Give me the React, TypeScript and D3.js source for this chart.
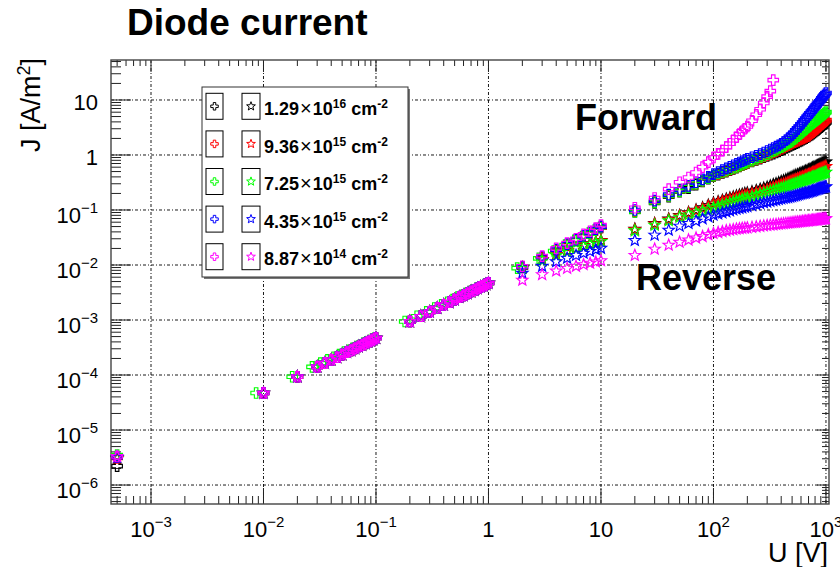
import React from 'react';
import * as d3 from 'd3';

const W = 840;
const H = 567;
const FONT = "'Liberation Sans', Arial, Helvetica, sans-serif";

// ---------------- data ----------------
const fluenceMantissa = ['1.29', '9.36', '7.25', '4.35', '8.87'];
const fluenceExponent = ['16', '15', '15', '15', '14'];
const seriesColors = ['#000000', '#ff0000', '#00ff00', '#0000ff', '#ff00ff'];

const voltFirst = [0.0005];
const jFirstFwd = [2.2e-6, 3.1e-6, 3.5e-6, 3.2e-6, 3.3e-6];
const jFirstRev = [3.0e-6, 3.1e-6, 3.2e-6, 3.2e-6, 3.3e-6];

const voltLow = [0.01, 0.02, 0.03, 0.035, 0.04, 0.045, 0.05, 0.055, 0.06, 0.065, 0.07, 0.075, 0.08, 0.085, 0.09, 0.095, 0.1,
  0.2, 0.25, 0.3, 0.35, 0.4, 0.45, 0.5, 0.55, 0.6, 0.65, 0.7, 0.75, 0.8, 0.85, 0.9, 0.95, 1.0];
const jLow = [4.7e-5, 9.3e-5, 1.41e-4, 1.65e-4, 1.88e-4, 2.1e-4, 2.35e-4, 2.6e-4, 2.8e-4, 3.05e-4, 3.3e-4, 3.5e-4, 3.75e-4, 4.0e-4, 4.2e-4, 4.45e-4, 4.7e-4,
  9.4e-4, 1.17e-3, 1.41e-3, 1.65e-3, 1.88e-3, 2.1e-3, 2.35e-3, 2.6e-3, 2.8e-3, 3.05e-3, 3.3e-3, 3.5e-3, 3.75e-3, 4.0e-3, 4.2e-3, 4.45e-3, 4.7e-3];
// the green forward scan was taken at slightly lower voltages
const voltLowGreenFwd = [0.0086, 0.018, 0.027, 0.032, 0.037, 0.042, 0.047, 0.052, 0.057, 0.062, 0.067, 0.072, 0.077, 0.082, 0.087, 0.092, 0.097,
  0.18, 0.23, 0.28, 0.33, 0.38, 0.43, 0.48, 0.53, 0.58, 0.63, 0.68, 0.73, 0.78, 0.83, 0.88, 0.93, 0.98];

const voltMid = [2, 3, 4, 5, 6, 7, 8, 9, 10];
const voltMidGreenFwd = [1.8, 2.8, 3.8, 4.8, 5.8, 6.8, 7.8, 8.8, 9.8];
const fwdMidBlack = [0.0090, 0.0135, 0.018, 0.023, 0.028, 0.033, 0.038, 0.043, 0.048];
const fwdMidRed = [0.0091, 0.0136, 0.0182, 0.0232, 0.0282, 0.033, 0.038, 0.043, 0.048];
const fwdMidGreen = [0.0088, 0.0132, 0.018, 0.023, 0.028, 0.033, 0.038, 0.043, 0.048];
const fwdMidBlue = [0.0092, 0.014, 0.019, 0.024, 0.029, 0.034, 0.039, 0.045, 0.050];
const fwdMidMagenta = [0.0095, 0.0145, 0.020, 0.025, 0.030, 0.036, 0.041, 0.047, 0.053];
const revMidBlack = [0.0090, 0.0125, 0.0155, 0.0182, 0.0205, 0.0225, 0.0245, 0.0262, 0.028];
const revMidRed = [0.0089, 0.0123, 0.0153, 0.018, 0.0203, 0.0223, 0.0242, 0.026, 0.0277];
const revMidGreen = [0.0087, 0.012, 0.015, 0.0176, 0.0198, 0.0218, 0.0237, 0.0254, 0.027];
const revMidBlue = [0.0071, 0.0095, 0.0115, 0.0133, 0.015, 0.0164, 0.0177, 0.019, 0.0202];
const revMidMagenta = [0.0053, 0.0067, 0.0078, 0.0087, 0.0095, 0.0102, 0.0108, 0.0114, 0.0120];

const voltHigh = [20, 30, 40, 50, 60, 70, 80, 90, 100, 110, 120, 130, 140, 150, 160, 170, 180, 190, 200,
  220, 240, 260, 280, 300, 320, 340, 360, 380, 400, 420, 440, 460, 480, 500, 520, 540, 560, 580, 600,
  620, 640, 660, 680, 700, 720, 740, 760, 780, 800, 820, 840, 860, 880, 900, 920, 940, 960, 980, 1000];

const fwdHighBlack = [0.093, 0.135, 0.175, 0.215, 0.25, 0.29, 0.33, 0.37, 0.41, 0.44, 0.47, 0.50, 0.53, 0.56, 0.59, 0.62, 0.65, 0.68, 0.71,
  0.76, 0.81, 0.86, 0.91, 0.96, 1.01, 1.06, 1.11, 1.16, 1.22, 1.28, 1.34, 1.40, 1.46, 1.52, 1.58, 1.64, 1.70, 1.76, 1.82,
  1.89, 1.96, 2.03, 2.10, 2.17, 2.26, 2.35, 2.45, 2.55, 2.65, 2.76, 2.87, 2.98, 3.10, 3.22, 3.35, 3.48, 3.62, 3.76, 3.90];
const fwdHighRed = [0.095, 0.14, 0.18, 0.22, 0.26, 0.30, 0.34, 0.38, 0.42, 0.45, 0.48, 0.51, 0.54, 0.57, 0.60, 0.63, 0.66, 0.69, 0.72,
  0.78, 0.83, 0.88, 0.94, 1.00, 1.06, 1.12, 1.18, 1.24, 1.30, 1.37, 1.44, 1.51, 1.58, 1.65, 1.71, 1.77, 1.83, 1.89, 1.95,
  2.01, 2.07, 2.13, 2.19, 2.25, 2.37, 2.49, 2.61, 2.73, 2.85, 2.99, 3.13, 3.27, 3.41, 3.55, 3.69, 3.83, 3.97, 4.13, 4.30];
const fwdHighGreen = [0.092, 0.138, 0.18, 0.22, 0.26, 0.30, 0.34, 0.38, 0.42, 0.46, 0.49, 0.52, 0.55, 0.58, 0.61, 0.64, 0.67, 0.70, 0.73,
  0.79, 0.85, 0.91, 0.97, 1.03, 1.10, 1.17, 1.24, 1.31, 1.38, 1.46, 1.54, 1.62, 1.71, 1.80, 1.93, 2.06, 2.20, 2.35, 2.50,
  2.65, 2.80, 2.96, 3.13, 3.30, 3.46, 3.62, 3.78, 3.94, 4.10, 4.28, 4.46, 4.64, 4.82, 5.00, 5.20, 5.40, 5.60, 5.80, 6.00];
const fwdHighBlue = [0.10, 0.148, 0.19, 0.235, 0.275, 0.32, 0.36, 0.40, 0.45, 0.49, 0.53, 0.57, 0.61, 0.65, 0.69, 0.73, 0.77, 0.81, 0.85,
  0.91, 0.97, 1.04, 1.11, 1.18, 1.26, 1.34, 1.42, 1.50, 1.60, 1.72, 1.85, 1.98, 2.15, 2.35, 2.55, 2.80, 3.05, 3.30, 3.60,
  3.90, 4.25, 4.60, 4.95, 5.30, 5.70, 6.10, 6.50, 7.00, 7.50, 8.00, 8.50, 9.00, 9.50, 10.0, 10.7, 11.4, 12.0, 12.7, 13.4];
const fwdHighMagenta = [0.11, 0.165, 0.24, 0.32, 0.39, 0.48, 0.60, 0.74, 0.90, 1.05, 1.2, 1.4, 1.6, 1.85, 2.1, 2.4, 2.7, 3.0, 3.3,
  4.2, 5.4, 6.8, 8.8, 11.5, 14.5, 23];

const revHighBlack = [0.045, 0.057, 0.069, 0.080, 0.090, 0.100, 0.110, 0.122, 0.134, 0.142, 0.150, 0.158, 0.166, 0.173, 0.180, 0.187, 0.193, 0.200, 0.205,
  0.215, 0.226, 0.238, 0.250, 0.260, 0.275, 0.290, 0.300, 0.315, 0.330, 0.340, 0.355, 0.370, 0.385, 0.400, 0.415, 0.430, 0.440, 0.455, 0.470,
  0.480, 0.495, 0.510, 0.520, 0.535, 0.550, 0.565, 0.580, 0.595, 0.610, 0.625, 0.640, 0.655, 0.670, 0.685, 0.700, 0.715, 0.730, 0.740, 0.750];
const revHighRed = [0.044, 0.056, 0.067, 0.078, 0.088, 0.097, 0.106, 0.117, 0.128, 0.136, 0.143, 0.150, 0.157, 0.163, 0.169, 0.175, 0.180, 0.185, 0.190,
  0.199, 0.208, 0.217, 0.226, 0.235, 0.246, 0.257, 0.267, 0.278, 0.288, 0.298, 0.308, 0.319, 0.330, 0.340, 0.350, 0.360, 0.370, 0.380, 0.390,
  0.400, 0.410, 0.420, 0.430, 0.440, 0.452, 0.464, 0.476, 0.488, 0.500, 0.512, 0.524, 0.536, 0.548, 0.560, 0.572, 0.584, 0.596, 0.608, 0.620];
const revHighGreen = [0.042, 0.053, 0.064, 0.074, 0.082, 0.089, 0.096, 0.103, 0.110, 0.116, 0.122, 0.128, 0.134, 0.140, 0.146, 0.151, 0.156, 0.161, 0.165,
  0.174, 0.183, 0.192, 0.201, 0.210, 0.218, 0.226, 0.234, 0.242, 0.250, 0.258, 0.266, 0.274, 0.282, 0.290, 0.298, 0.306, 0.314, 0.322, 0.330,
  0.338, 0.346, 0.354, 0.362, 0.370, 0.378, 0.386, 0.394, 0.402, 0.410, 0.418, 0.426, 0.434, 0.442, 0.450, 0.458, 0.466, 0.474, 0.482, 0.490];
const revHighBlue = [0.028, 0.035, 0.043, 0.051, 0.057, 0.063, 0.069, 0.075, 0.081, 0.085, 0.089, 0.093, 0.097, 0.101, 0.104, 0.107, 0.110, 0.113, 0.116,
  0.121, 0.126, 0.131, 0.136, 0.140, 0.144, 0.148, 0.152, 0.156, 0.160, 0.163, 0.166, 0.169, 0.172, 0.175, 0.179, 0.183, 0.187, 0.191, 0.195,
  0.198, 0.201, 0.204, 0.207, 0.210, 0.214, 0.218, 0.222, 0.226, 0.230, 0.234, 0.238, 0.242, 0.246, 0.250, 0.253, 0.256, 0.259, 0.262, 0.265];
const revHighMagenta = [0.0150, 0.0195, 0.0230, 0.0260, 0.0285, 0.0310, 0.0330, 0.0355, 0.0375, 0.0390, 0.0405, 0.0420, 0.0430, 0.0440, 0.0450, 0.0458, 0.0465, 0.0470, 0.0475,
  0.0485, 0.0495, 0.0505, 0.0515, 0.0525, 0.0532, 0.0540, 0.0547, 0.0554, 0.0560, 0.0566, 0.0572, 0.0578, 0.0584, 0.0590, 0.0595, 0.0600, 0.0605, 0.0610, 0.0615,
  0.0620, 0.0625, 0.0630, 0.0634, 0.0638, 0.0642, 0.0646, 0.0650, 0.0654, 0.0658, 0.0662, 0.0666, 0.0670, 0.0674, 0.0678, 0.0682, 0.0686, 0.0690, 0.0694, 0.0698];

const fwdMid = [fwdMidBlack, fwdMidRed, fwdMidGreen, fwdMidBlue, fwdMidMagenta];
const revMid = [revMidBlack, revMidRed, revMidGreen, revMidBlue, revMidMagenta];
const fwdHigh = [fwdHighBlack, fwdHighRed, fwdHighGreen, fwdHighBlue, fwdHighMagenta];
const revHigh = [revHighBlack, revHighRed, revHighGreen, revHighBlue, revHighMagenta];

const xTickValues = [1e-3, 1e-2, 1e-1, 1, 10, 100, 1000];
const xTickBase = ['10', '10', '10', '1', '10', '10', '10'];
const xTickExp = ['\u22123', '\u22122', '\u22121', '', '', '2', '3'];
const yTickValues = [1e-6, 1e-5, 1e-4, 1e-3, 1e-2, 1e-1, 1, 10];
const yTickBase = ['10', '10', '10', '10', '10', '10', '1', '10'];
const yTickExp = ['\u22126', '\u22125', '\u22124', '\u22123', '\u22122', '\u22121', '', ''];

// ---------------- layout ----------------
const fr = { left: 111, right: 829, top: 60, bottom: 504 };
const x = d3.scaleLog().domain([Math.pow(10, -3.3556), Math.pow(10, 3.027)]).range([fr.left, fr.right]);
const y = d3.scaleLog().domain([Math.pow(10, -6.345), Math.pow(10, 1.727)]).range([fr.bottom, fr.top]);

function crossPath(s: number) {
  const h = s / 2, t = s / 6;
  return `M${-t},${-h}H${t}V${-t}H${h}V${t}H${t}V${h}H${-t}V${t}H${-h}V${-t}H${-t}Z`;
}
function starPath(R: number) {
  const r = R * 0.42;
  const pts: [number, number][] = [];
  for (let i = 0; i < 10; i++) {
    const a = -Math.PI / 2 + (i * Math.PI) / 5;
    const rr = i % 2 === 0 ? R : r;
    pts.push([rr * Math.cos(a), rr * Math.sin(a)]);
  }
  return (d3.line()(pts) as string) + 'Z';
}

function minorTicks(scale: any) {
  const [d0, d1] = scale.domain();
  const out: number[] = [];
  for (let e = Math.floor(Math.log10(d0)); e <= Math.ceil(Math.log10(d1)); e++) {
    for (let k = 2; k <= 9; k++) {
      const v = k * Math.pow(10, e);
      if (v >= d0 && v <= d1) out.push(v);
    }
  }
  return out;
}

export default function App() {
  const crossD = crossPath(10.5);
  const starD = starPath(6);
  const crossLegend = crossPath(7.5);
  const starLegend = starPath(4.6);

  const series = seriesColors.map((c, i) => {
    const isGreen = i === 2;
    const vLow = isGreen ? voltLowGreenFwd : voltLow;
    const vMid = isGreen ? voltMidGreenFwd : voltMid;
    const fwd: [number, number][] = [
      [voltFirst[0], jFirstFwd[i]],
      ...vLow.map((v, k) => [v, jLow[k]] as [number, number]),
      ...vMid.map((v, k) => [v, fwdMid[i][k]] as [number, number]),
      ...fwdHigh[i].map((j, k) => [voltHigh[k], j] as [number, number]),
    ];
    const rev: [number, number][] = [
      [voltFirst[0], jFirstRev[i]],
      ...voltLow.map((v, k) => [v, jLow[k]] as [number, number]),
      ...voltMid.map((v, k) => [v, revMid[i][k]] as [number, number]),
      ...revHigh[i].map((j, k) => [voltHigh[k], j] as [number, number]),
    ];
    return { color: c, fwd, rev };
  });

  const xMinor = minorTicks(x);
  const yMinor = minorTicks(y);

  const legendTop = 106.3;
  const legendStep = 37.6;

  return (
    <svg width={W} height={H} style={{ position: 'absolute', left: 0, top: 0, background: '#fff' }} fontFamily={FONT}>
      <rect x={0} y={0} width={W} height={H} fill="#fff" />
      {/* grid */}
      <g stroke="#000" strokeWidth={0.9} strokeDasharray="3,2,1,2">
        {xTickValues.map((v) => (
          <line key={'gx' + v} x1={x(v)} x2={x(v)} y1={fr.top} y2={fr.bottom} />
        ))}
        {yTickValues.map((v) => (
          <line key={'gy' + v} x1={fr.left} x2={fr.right} y1={y(v)} y2={y(v)} />
        ))}
      </g>
      {/* ticks */}
      <g stroke="#222" strokeWidth={1}>
        {xTickValues.map((v) => (
          <g key={'tx' + v}>
            <line x1={x(v)} x2={x(v)} y1={fr.bottom} y2={fr.bottom - 16} />
            <line x1={x(v)} x2={x(v)} y1={fr.top} y2={fr.top + 12} />
          </g>
        ))}
        {xMinor.map((v) => (
          <g key={'mx' + v}>
            <line x1={x(v)} x2={x(v)} y1={fr.bottom} y2={fr.bottom - 8} />
            <line x1={x(v)} x2={x(v)} y1={fr.top} y2={fr.top + 6} />
          </g>
        ))}
        {yTickValues.map((v) => (
          <g key={'ty' + v}>
            <line x1={fr.left} x2={fr.left + 20} y1={y(v)} y2={y(v)} />
            <line x1={fr.right} x2={fr.right - 12} y1={y(v)} y2={y(v)} />
          </g>
        ))}
        {yMinor.map((v) => (
          <g key={'my' + v}>
            <line x1={fr.left} x2={fr.left + 10} y1={y(v)} y2={y(v)} />
            <line x1={fr.right} x2={fr.right - 7} y1={y(v)} y2={y(v)} />
          </g>
        ))}
      </g>
      {/* frame */}
      <rect x={fr.left} y={fr.top} width={fr.right - fr.left} height={fr.bottom - fr.top} fill="none" stroke="#444" strokeWidth={1.4} />

      {/* data */}
      <g fill="none" strokeWidth={1.15}>
        {series.map((s, i) => (
          <g key={'s' + i} stroke={s.color}>
            {s.fwd.map(([v, j], k) => (
              <path key={'f' + k} d={crossD} transform={`translate(${x(v)},${y(j)})`} />
            ))}
            {s.rev.map(([v, j], k) => (
              <path key={'r' + k} d={starD} transform={`translate(${x(v)},${y(j)})`} />
            ))}
          </g>
        ))}
      </g>

      {/* tick labels */}
      <g fontSize={22} fill="#000">
        {xTickValues.map((v, i) => (
          <text key={'lx' + v} x={x(v)} y={537} textAnchor="middle">
            {xTickBase[i]}
            {xTickExp[i] && (
              <tspan fontSize={15} dy={-10}>{xTickExp[i]}</tspan>
            )}
          </text>
        ))}
        {yTickValues.map((v, i) => (
          <text key={'ly' + v} x={98} y={y(v) + (yTickExp[i] ? 13 : 10)} textAnchor="end">
            {yTickBase[i]}
            {yTickExp[i] && (
              <tspan fontSize={15} dy={-10}>{yTickExp[i]}</tspan>
            )}
          </text>
        ))}
      </g>

      {/* axis titles */}
      <text x={828} y={562} fontSize={27} textAnchor="end">U [V]</text>
      <text transform="translate(40,58) rotate(-90)" fontSize={27} textAnchor="end">
        J [A/m<tspan fontSize={18} dy={-10}>2</tspan><tspan dy={10}>]</tspan>
      </text>

      {/* title & annotations */}
      <text x={127} y={35} fontSize={37} fontWeight="bold">Diode current</text>
      <text x={575} y={130} fontSize={36} fontWeight="bold">Forward</text>
      <text x={636} y={290} fontSize={36} fontWeight="bold">Reverse</text>

      {/* legend */}
      <rect x={204} y={89} width={206} height={190} fill="#777" />
      <rect x={202} y={87} width={206} height={190} fill="#fff" stroke="#333" strokeWidth={1} />
      {seriesColors.map((c, i) => {
        const cy = legendTop + i * legendStep;
        return (
          <g key={'lg' + i}>
            <rect x={206} y={cy - 13} width={17} height={26} fill="#fff" stroke="#000" strokeWidth={1} />
            <rect x={242} y={cy - 13} width={18} height={26} fill="#fff" stroke="#000" strokeWidth={1} />
            <path d={crossLegend} transform={`translate(${214.5},${cy})`} fill="none" stroke={c} strokeWidth={1} />
            <path d={starLegend} transform={`translate(${251},${cy})`} fill="none" stroke={c} strokeWidth={1} />
            <text x={264} y={cy + 8.7} fontSize={18} fontWeight="bold" fill="#000">
              {fluenceMantissa[i]}
              <tspan dx={1} fontWeight="normal" fontSize={20}>{'\u00d7'}</tspan>
              <tspan dx={1}>10</tspan>
              <tspan fontSize={12} dy={-7}>{fluenceExponent[i]}</tspan>
              <tspan dy={7}>{' cm'}</tspan>
              <tspan fontSize={12} dy={-7}>{'-2'}</tspan>
            </text>
          </g>
        );
      })}
    </svg>
  );
}
